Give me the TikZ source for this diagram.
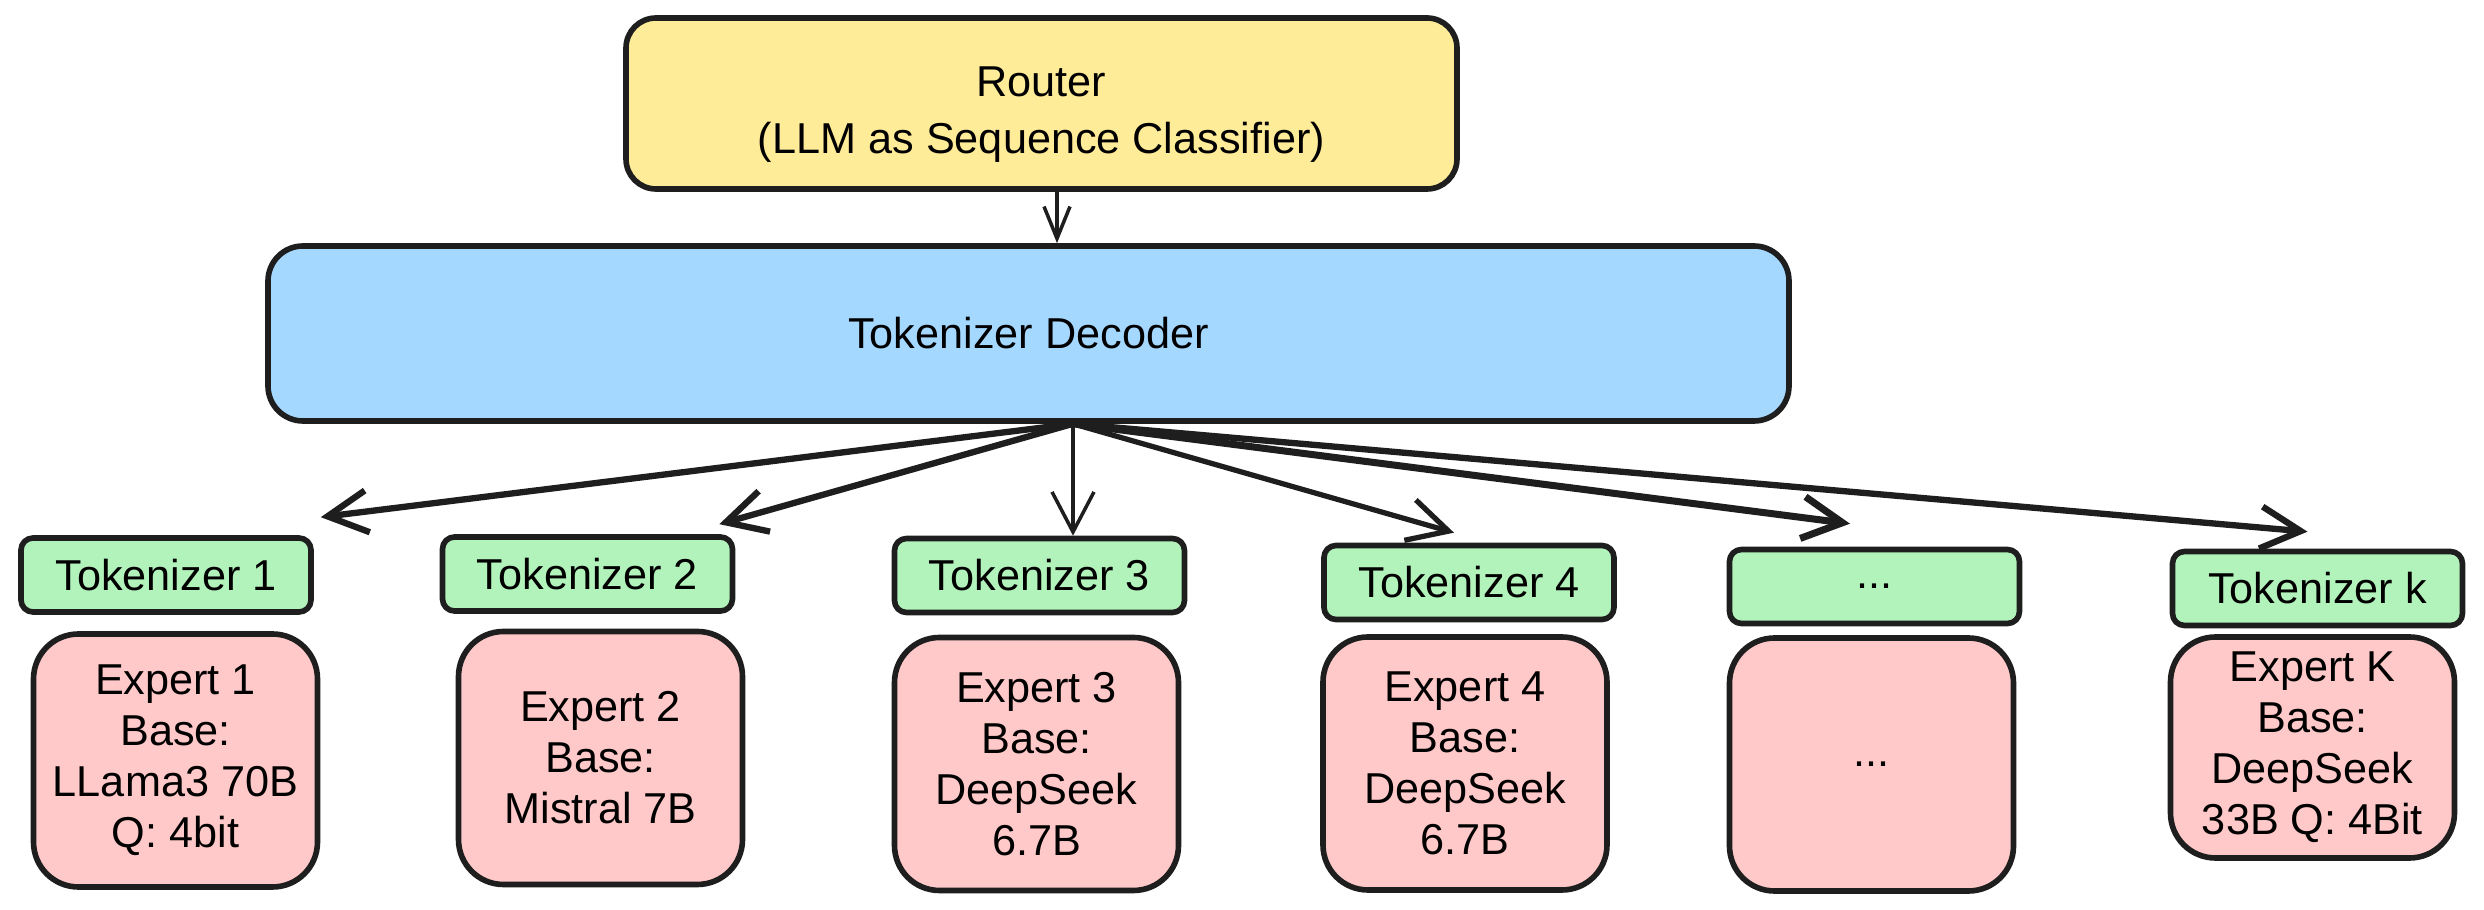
\documentclass[tikz,border=0pt]{standalone}
\usepackage{fontspec}
\setmainfont{Liberation Sans}
\usetikzlibrary{arrows.meta}

\definecolor{ink}{HTML}{1E1E1E}
\definecolor{routerfill}{HTML}{FFEC99}
\definecolor{decfill}{HTML}{A5D8FF}
\definecolor{tokfill}{HTML}{B2F2BB}
\definecolor{expfill}{HTML}{FFC9C9}

\begin{document}
\begin{tikzpicture}[
	box/.style={draw=ink, line width=1.6pt, line join=round, align=center, inner sep=0pt, font=\fontsize{12.3}{14.5}\selectfont},
	routerbox/.style={box, fill=routerfill, rounded corners=3mm, minimum width=8.31cm, minimum height=1.71cm},
	decbox/.style={box, fill=decfill, rounded corners=3.5mm, minimum width=15.21cm, minimum height=1.75cm},
	tokbox/.style={box, fill=tokfill, rounded corners=1.2mm, minimum width=2.9cm, minimum height=0.74cm},
	expbox/.style={box, fill=expfill, rounded corners=4.5mm, minimum width=2.84cm, minimum height=2.53cm},
	arr/.style={draw=ink, line width=1.5pt, line cap=round, line join=round, -{Straight Barb[length=4mm,width=4.2mm]}}
	]
					\useasboundingbox (0,0) rectangle (24.84,-9.10);
					
					\node[routerbox] (router) at (10.415,-1.035) {\raisebox{-1.1mm}[\height][\depth]{\begin{tabular}{@{}c@{}}Router\\[0.6mm](LLM as Sequence Classifier)\end{tabular}}};
					\node[decbox] (dec) at (10.285,-3.335) {Tokenizer Decoder};
					
					\node[tokbox] (tok1) at (1.66,-5.75) {Tokenizer 1};
					\node[tokbox] (tok2) at (5.875,-5.74) {Tokenizer 2};
					\node[tokbox] (tok3) at (10.395,-5.755) {Tokenizer 3};
					\node[tokbox] (tok4) at (14.69,-5.825) {Tokenizer 4};
					\node[tokbox] (tok5) at (18.745,-5.865) {...};
					\node[tokbox] (tok6) at (23.175,-5.885) {Tokenizer k};
					
					\node[expbox] (exp1) at (1.755,-7.605) {Expert 1\\Base:\\LLama3 70B\\Q: 4bit};
					\node[expbox] (exp2) at (6.005,-7.58) {Expert 2\\Base:\\Mistral 7B};
					\node[expbox] (exp3) at (10.365,-7.64) {Expert 3\\Base:\\DeepSeek\\6.7B};
					\node[expbox] (exp4) at (14.65,-7.635) {Expert 4\\Base:\\DeepSeek\\6.7B};
					\node[expbox] (exp5) at (18.715,-7.645) {...};
					\node[expbox, minimum height=2.21cm] (exp6) at (23.125,-7.475) {Expert K\\Base:\\DeepSeek\\33B Q: 4Bit};
					
					% router -> decoder
					\coordinate (rout) at ([xshift=1.55mm]router.south);
					\draw[arr, line width=1pt, -{Straight Barb[length=3.2mm,width=2.6mm]}] (rout) -- (rout |- dec.north);
					
					% decoder -> tokenizers
					\coordinate (fan) at ([xshift=4.45mm]dec.south);
					\coordinate (in1) at ([xshift=0.7mm,yshift=1.8mm]tok1.north east);
					\coordinate (in2) at ([xshift=-1.6mm,yshift=1mm]tok2.north east);
					\coordinate (in3) at (fan |- tok3.north);
					\coordinate (in4) at ([xshift=-1.5mm,yshift=1mm]tok4.north);
					\coordinate (in5) at ([xshift=-2.45mm,yshift=2.3mm]tok5.north);
					\coordinate (in6) at ([xshift=-1mm,yshift=1.7mm]tok6.north);
					
					\draw[arr, line width=1.8pt] (fan) -- (in1);
					\draw[arr, line width=1.8pt] (fan) -- (in2);
					\draw[arr, line width=1pt] (fan) -- (in3);
					\draw[arr] (fan) -- (in4);
					\draw[arr, line width=2pt] (fan) -- (in5);
					\draw[arr, line width=1.8pt] (fan) -- (in6);
					
				\end{tikzpicture}
\end{document}
